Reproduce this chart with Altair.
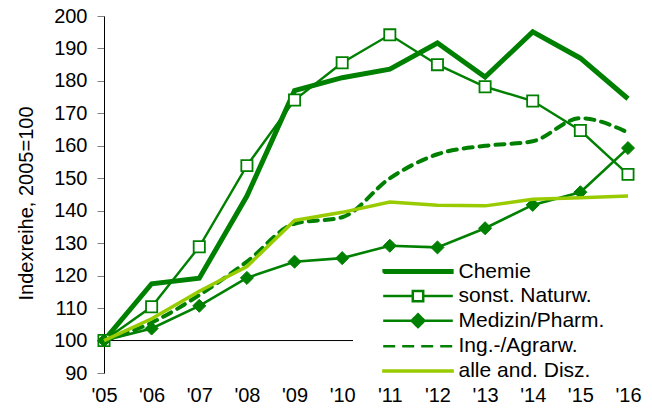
import altair as alt
import pandas as pd

# ---------------- data ----------------
years = list(range(2005, 2017))
series_names = ["Chemie", "sonst. Naturw.", "Medizin/Pharm.", "Ing.-/Agrarw.", "alle and. Disz."]
chemie = [100, 117.5, 119.2, 144.5, 177.0, 181.0, 183.6, 191.7, 181.2, 195.1, 187.0, 174.5]
sonst_naturw = [100, 110.4, 128.9, 153.9, 174.1, 185.6, 194.2, 185.0, 178.2, 173.8, 164.7, 151.2]
medizin_pharm = [100, 103.7, 110.7, 119.3, 124.3, 125.4, 129.2, 128.7, 134.6, 141.8, 145.7, 159.3]
ing_agrarw = [100, 105.5, 114.0, 124.3, 136.0, 138.0, 150.0, 157.4, 160.0, 161.4, 168.5, 164.1]
alle_and_disz = [100, 106.7, 115.2, 122.8, 137.0, 139.5, 142.7, 141.7, 141.5, 143.5, 144.0, 144.5]
y_ticks = list(range(90, 201, 10))
baseline_value = [100]

series_values = [chemie, sonst_naturw, medizin_pharm, ing_agrarw, alle_and_disz]
rows = []
for name, vals in zip(series_names, series_values):
    for yr, v in zip(years, vals):
        rows.append({"year": yr, "series": name, "value": v})
df = pd.DataFrame(rows)
base_df = pd.DataFrame({"value": baseline_value})

DARK = "#008000"
LIGHT = "#99CC00"
FONT = "Liberation Sans"

x_enc = alt.X(
    "year:Q",
    scale=alt.Scale(domain=[years[0], years[-1]], nice=False, zero=False),
    axis=alt.Axis(
        values=years,
        labelExpr='"\'" + substring(toString(datum.value), 2)',
        grid=False, domain=False, ticks=False,
        labelFlush=False, labelOverlap=False,
        labelPadding=12, labelFontSize=20, labelColor="black", labelFont=FONT,
        title=None,
    ),
)
y_enc = alt.Y(
    "value:Q",
    scale=alt.Scale(domain=[90, 200], nice=False, zero=False),
    axis=alt.Axis(
        values=y_ticks,
        grid=False, domainColor="black", domainWidth=1,
        tickColor="#808080", tickSize=7, tickWidth=1,
        labelOverlap=False, labelFlush=False,
        labelPadding=10, labelFontSize=20, labelColor="black", labelFont=FONT,
        title="Indexreihe, 2005=100",
        titleFont=FONT, titleFontSize=20, titleFontWeight="normal", titleColor="black",
        titleAngle=-90, titleX=-78, titleY=187, titleAlign="center", titleBaseline="middle",
    ),
)

def sub(name):
    return alt.Chart(df).transform_filter(alt.datum.series == name)

axis_line = alt.Chart(base_df).mark_rule(color="black", strokeWidth=1).encode(y=y_enc)

l_chemie = sub("Chemie").mark_line(color=DARK, strokeWidth=5).encode(x=x_enc, y=y_enc)
l_sonst = sub("sonst. Naturw.").mark_line(color=DARK, strokeWidth=2.4).encode(x=x_enc, y=y_enc)
p_sonst = sub("sonst. Naturw.").mark_point(
    shape="square", filled=True, fill="white", stroke=DARK, strokeWidth=1.8, size=125, opacity=1
).encode(x=x_enc, y=y_enc)
l_med = sub("Medizin/Pharm.").mark_line(color=DARK, strokeWidth=2.6).encode(x=x_enc, y=y_enc)
p_med = sub("Medizin/Pharm.").mark_point(
    shape="diamond", filled=True, fill=DARK, stroke=DARK, strokeWidth=1, size=170, opacity=1
).encode(x=x_enc, y=y_enc)
l_ing = sub("Ing.-/Agrarw.").mark_line(
    color=DARK, strokeWidth=4, strokeDash=[9, 7], strokeCap="round", interpolate="monotone"
).encode(x=x_enc, y=y_enc)
l_alle = sub("alle and. Disz.").mark_line(color=LIGHT, strokeWidth=3.5).encode(x=x_enc, y=y_enc)

# legend symbols: custom paths (line with marker), scaled by sqrt(symbolSize)/2 = 4 px per unit
leg_shapes = [
    "M-8.6,-0.3L8.6,-0.3L8.6,0.3L-8.6,0.3Z",
    "M-8.7,0L-1.3,0M1.3,0L8.7,0M-1.3,-1.3L1.3,-1.3L1.3,1.3L-1.3,1.3Z",
    "M-8.7,0L8.7,0M0,-1.6L1.6,0L0,1.6L-1.6,0Z",
    "M-8.7,0L8.7,0",
    "M-8.65,-0.12L8.65,-0.12L8.65,0.12L-8.65,0.12Z",
]
leg_fill = [DARK, "white", DARK, "transparent", LIGHT]
leg_stroke = [DARK, DARK, DARK, DARK, LIGHT]
leg_dash = [[1, 0], [1, 0], [1, 0], [12, 7], [1, 0]]

legend = alt.Legend(
    orient="none", legendX=249, legendY=243, padding=2, fillColor="white",
    title=None, labelFontSize=21, labelFont=FONT, labelColor="black", labelLimit=400,
    labelExpr="datum.label + '\u2800\u2800'",
    symbolSize=64, symbolStrokeWidth=2.5, symbolOffset=52.5, labelOffset=30, rowPadding=2.6,
)
leg_layer = alt.Chart(df).transform_filter(alt.datum.value < 0).mark_point(
    size=64, strokeWidth=2.5, opacity=1
).encode(
    x=x_enc, y=y_enc,
    shape=alt.Shape("series:N", scale=alt.Scale(domain=series_names, range=leg_shapes), legend=legend),
    fill=alt.Fill("series:N", scale=alt.Scale(domain=series_names, range=leg_fill), legend=legend),
    stroke=alt.Stroke("series:N", scale=alt.Scale(domain=series_names, range=leg_stroke), legend=legend),
    strokeDash=alt.StrokeDash("series:N", scale=alt.Scale(domain=series_names, range=leg_dash), legend=legend),
)

chart = alt.layer(
    axis_line, l_chemie, l_sonst, p_sonst, l_med, p_med, l_ing, l_alle, leg_layer
).properties(
    width=524, height=357,
    autosize=alt.AutoSizeParams(type="none"),
    padding={"left": 96, "top": 8, "right": 16, "bottom": 32},
).configure_view(strokeWidth=0)

chart.save("out.html", embed_options={"renderer": "svg", "actions": False})
